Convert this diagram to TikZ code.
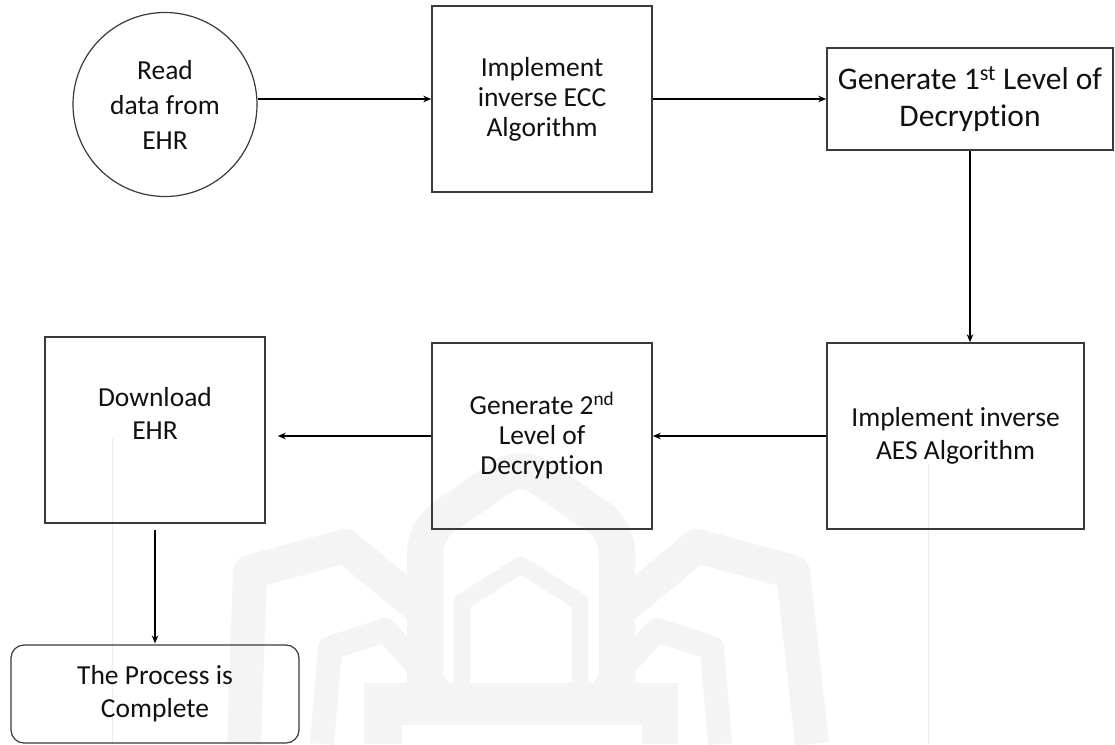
\documentclass[tikz,border=0pt]{standalone}
\usepackage{fontspec}
\setmainfont{Carlito}[Ligatures=NoCommon]
\usetikzlibrary{arrows.meta}

\definecolor{edgegray}{HTML}{3A3A3A}
\definecolor{inkgray}{HTML}{111111}
\definecolor{emblemgray}{HTML}{F4F4F4}
\definecolor{rulegray}{HTML}{ECECEC}

\tikzset{
  every node/.style={text=inkgray, font=\fontsize{27.5}{33}\selectfont, align=center},
  boxnode/.style={draw=edgegray, line width=1.5pt, rectangle, inner sep=0pt},
  startnode/.style={draw=edgegray, line width=1.2pt, circle, inner sep=0pt, minimum size=184pt},
  endnode/.style={draw=edgegray, line width=1.2pt, rectangle, rounded corners=13pt, inner sep=0pt},
  flow/.style={draw=black, line width=1.6pt, -{Stealth[length=8pt,width=6.5pt]}},
  emblemband/.style={draw=emblemgray, line join=round},
}

\begin{document}
\begin{tikzpicture}[x=1pt, y=-1pt]
  \useasboundingbox (0,0) rectangle (1115,744);
  \fill[white] (0,0) rectangle (1115,744);

  % faint background emblem
  \draw[emblemband, line width=34pt] (244,744) -- (250,572) -- (345,546) -- (425,612);
  \draw[emblemband, line width=34pt] (812,744) -- (793,572) -- (697,546) -- (617,612);
  \draw[emblemband, line width=24pt] (322,744) -- (330,648) -- (385,630) -- (440,690);
  \draw[emblemband, line width=24pt] (720,744) -- (712,648) -- (657,630) -- (602,690);
  \draw[emblemband, line width=36pt, rounded corners=22pt]
    (425,690) -- (425,530) -- (521,464) -- (617,530) -- (617,690);
  \draw[emblemband, line width=17pt]
    (462,690) -- (462,602) -- (521,565) -- (580,602) -- (580,690);
  \fill[emblemgray] (364,683) rectangle (678,725);
  \fill[emblemgray] (364,725) rectangle (402,744);
  \fill[emblemgray] (642,725) rectangle (678,744);
  % faint page rules
  \draw[rulegray, line width=0.8pt] (112,438) -- (112,744);
  \draw[rulegray, line width=0.8pt] (928,463) -- (928,744);

  % top row
  \node[startnode, font=\fontsize{27.5}{35}\selectfont] (read) at (165,104.5)
    {Read\\data from\\EHR};
  \node[boxnode, minimum width=220pt, minimum height=186pt,
        font=\fontsize{27.5}{30}\selectfont] (ecc) at (542,99)
    {Implement\\inverse ECC\\Algorithm};
  \node[boxnode, minimum width=286pt, minimum height=102pt,
        font=\fontsize{31.5}{37}\selectfont] (gen1) at (970,99)
    {Generate 1\textsuperscript{st} Level of\\Decryption};

  % middle row
  \node[boxnode, minimum width=257pt, minimum height=186pt] (aes) at (955.5,436)
    {Implement inverse\\AES Algorithm};
  \node[boxnode, minimum width=220pt, minimum height=186pt,
        font=\fontsize{27.5}{30}\selectfont] (gen2) at (542,436)
    {Generate 2\textsuperscript{nd}\\Level of\\Decryption};
  \node[boxnode, minimum width=220pt, minimum height=186pt] (dl) at (155,430) {};
  \node[anchor=north, inner sep=0pt] (dltext) at (155,387) {Download\\EHR};

  % end state
  \node[endnode, minimum width=288pt, minimum height=98pt] (done) at (155,694)
    {The Process is\\Complete};

  % connectors
  \draw[flow] (ecc.west -| read.east) -- (ecc.west);
  \draw[flow] (ecc.east) -- (gen1.west);
  \draw[flow] (gen1.south) -- (gen1.south |- aes.north);
  \draw[flow] (aes.west) -- (gen2.east);
  \draw[flow, shorten >=12pt] (gen2.west) -- (gen2.west -| dl.east);
  \draw[flow, shorten <=6pt, shorten >=1pt] (dl.south) -- (done.north);
\end{tikzpicture}
\end{document}
